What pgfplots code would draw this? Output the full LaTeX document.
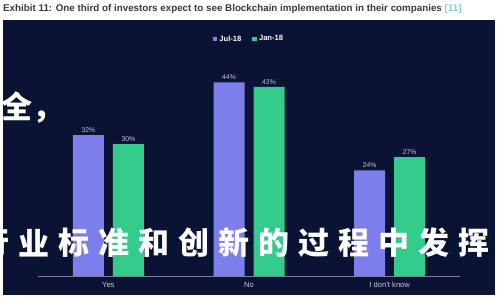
\documentclass[border=0pt]{standalone}
\usepackage{pgfplots}
\pgfplotsset{compat=1.18}
\usepackage{fontspec}
\setmainfont{Liberation Sans}
\newfontfamily\cjk{Noto Sans CJK SC}

\definecolor{panel}{HTML}{0A1334}
\definecolor{julbar}{HTML}{7D7DEB}
\definecolor{janbar}{HTML}{33CB8C}
\definecolor{titlegrey}{HTML}{3A3A3A}
\definecolor{refteal}{HTML}{7FD3D8}
\definecolor{labelgrey}{HTML}{C9CBD6}
\definecolor{axisgrey}{HTML}{7C8199}

\begin{document}
\begin{tikzpicture}[x=1pt,y=1pt]
\clip (0,0) rectangle (500,300);
\fill[white] (0,0) rectangle (500,300);
\fill[panel] (3,5) rectangle (495,280);

% exhibit title
\node[anchor=west, inner sep=0pt, text=titlegrey, font=\bfseries\fontsize{9.8}{10}\selectfont]
  at (3,291) {Exhibit 11: One third of investors expect to see Blockchain implementation in their companies \textcolor{refteal}{[11]}};

\begin{axis}[
  at={(38pt,24pt)}, anchor=south west,
  scale only axis, width=422pt, height=220pt,
  xmin=-0.5, xmax=2.5, ymin=0, ymax=50,
  ybar=9pt, bar width=31pt,
  axis y line=none,
  axis x line*=bottom,
  axis line style={draw=axisgrey, line width=0.8pt},
  xtick=data,
  xticklabels={Yes,No,I don't know},
  major tick length=0pt,
  xticklabel style={text=labelgrey, font=\fontsize{7.6}{8}\selectfont, yshift=-2.5pt},
  /pgf/number format/assume math mode=true,
  nodes near coords={\pgfmathprintnumber{\pgfplotspointmeta}\%},
  nodes near coords style={text=labelgrey, font=\fontsize{6.8}{7}\selectfont, inner sep=2pt, yshift=0.5pt},
  legend style={at={(0.5,1)}, anchor=center, yshift=17pt, draw=none, fill=none,
    text=white, font=\bfseries\fontsize{7.6}{8}\selectfont,
    /tikz/every even column/.append style={column sep=9pt}},
  legend columns=2,
  legend image code/.code={\fill[#1] (0pt,-2.3pt) rectangle (4.6pt,2.3pt);},
]
\addplot[fill=julbar, draw=none] coordinates {(0,32) (1,44) (2,24)};
\addplot[fill=janbar, draw=none] coordinates {(0,30) (1,43) (2,27)};
\legend{Jul-18,Jan-18}
\end{axis}

% overlaid brush-style text
\node[anchor=west, inner sep=0pt, text=white, font=\cjk\bfseries\fontsize{31}{31}\selectfont]
  at (1,192) {全，};
\foreach \ch [count=\i from 0] in {行,业,标,准,和,创,新,的,过,程,中,发,挥}
  \node[inner sep=0pt, text=white, font=\cjk\bfseries\fontsize{31}{31}\selectfont]
    at (-6+40*\i,57) {\ch};
\end{tikzpicture}
\end{document}
